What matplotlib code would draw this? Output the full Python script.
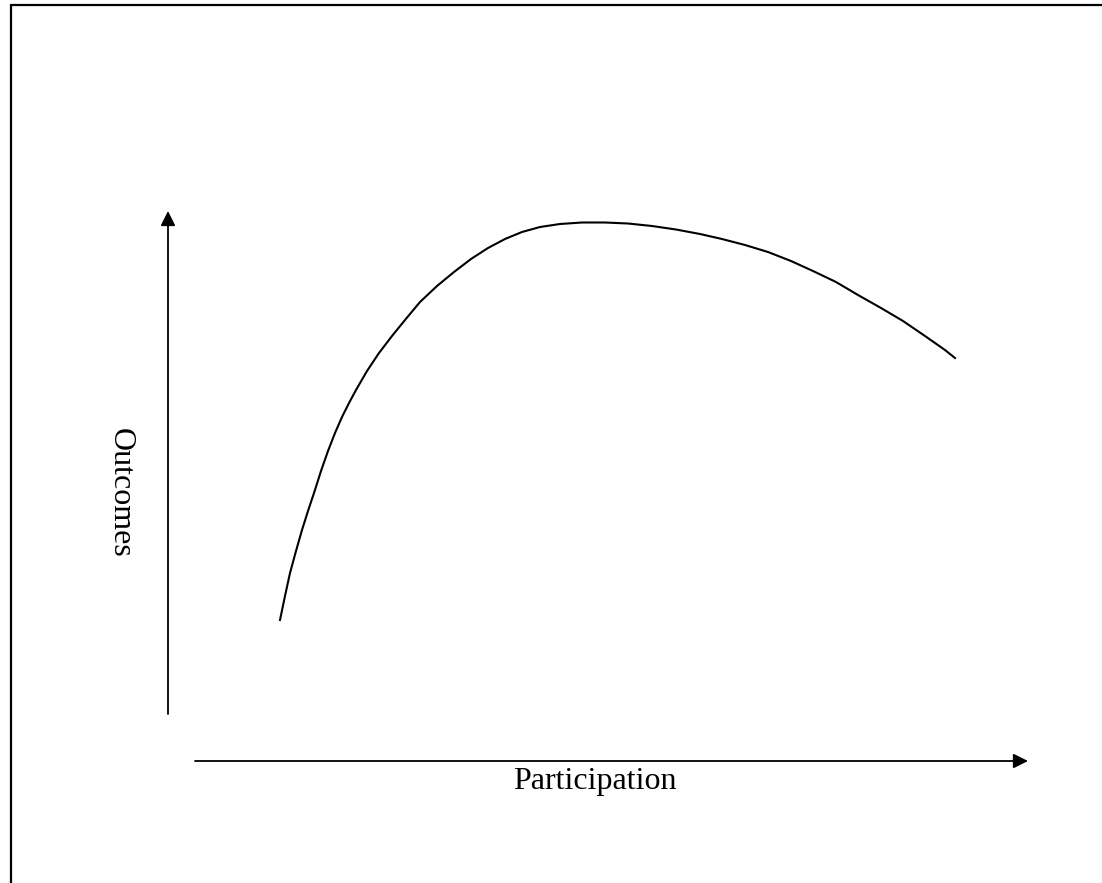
import matplotlib.pyplot as plt

# curve (pixel coordinates of the sketch)
participation = [280, 285, 290, 296, 302, 308, 314, 321, 328, 335, 342, 349,
                 356, 367, 379, 392, 405, 420, 437, 454, 471, 488, 505, 522,
                 540, 560, 582, 605, 628, 652, 676, 700, 722, 745, 768, 791,
                 813, 836, 858, 881, 903, 925, 945, 955]
outcomes = [620, 596, 573, 551, 530, 511, 493, 471, 451, 433, 417, 403,
            390, 371, 353, 336, 320, 302, 286, 272, 259, 248, 239, 232,
            227, 224, 222.5, 222.5, 223.5, 226, 229.5, 234, 239, 245, 252, 261,
            271, 282, 295, 308, 321, 336, 350, 358]

x_label = 'Participation'
y_label = 'Outcomes'

fig = plt.figure(figsize=(11.02, 8.83), dpi=100)
ax = fig.add_axes([0, 0, 1, 1])
ax.set_xlim(0, 1102)
ax.set_ylim(883, 0)
ax.axis('off')

# frame (only left and top visible)
ax.plot([11, 11, 1102], [883, 5, 5], color='black', lw=1.6, solid_joinstyle='miter')

# axes arrows
arrow = dict(arrowstyle='-|>', color='black', lw=1.3, mutation_scale=22, shrinkA=0, shrinkB=0)
ax.annotate('', xy=(168, 211), xytext=(168, 714), arrowprops=arrow)
ax.annotate('', xy=(1028, 761), xytext=(195, 761), arrowprops=arrow)

ax.plot(participation, outcomes, color='black', lw=1.5, solid_joinstyle='round')

ax.text(595, 781, x_label, ha='center', va='center', fontsize=23, family='Liberation Serif')
ax.text(120, 493, y_label, ha='center', va='center', rotation=270, fontsize=23,
        family='Liberation Serif')

fig.savefig('out.png', dpi=100)
